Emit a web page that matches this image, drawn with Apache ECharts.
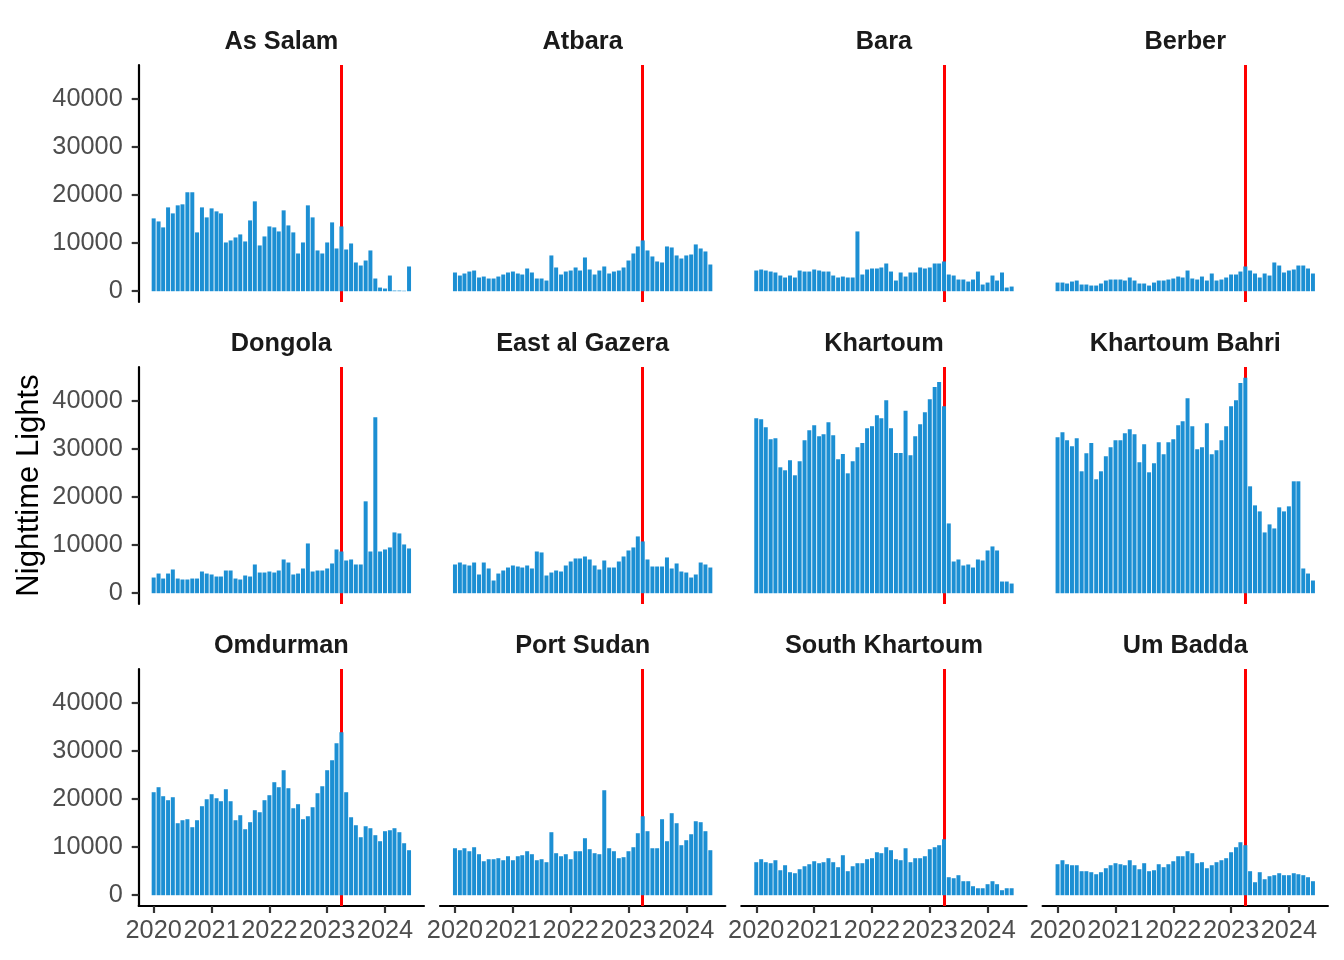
<!DOCTYPE html>
<html>
<head>
    <meta charset="UTF-8"/>
    <title>Nighttime Lights</title>
    <script src="https://cdn.jsdelivr.net/npm/echarts@6/dist/echarts.min.js"></script>
    <style>
        html, body { margin: 0; padding: 0; background: #fff; }
        #main { width: 1344px; height: 960px; }
    </style>
</head>
<body>
<div id="main"></div>
<script>
    // months 2020-01 .. 2024-06, one bar each
    var months = [];
    for (var m = 0; m < 54; m++) {
        months.push(new Date(2020, m, 1).getTime());
    }
    var warStart = new Date(2023, 3, 1).getTime();
    var yearTicks = [2020, 2021, 2022, 2023, 2024];
    var yTicks = [0, 10000, 20000, 30000, 40000];

    var regions = ['As Salam', 'Atbara', 'Bara', 'Berber',
        'Dongola', 'East al Gazera', 'Khartoum', 'Khartoum Bahri',
        'Omdurman', 'Port Sudan', 'South Khartoum', 'Um Badda'];

    var asSalam = [15130, 14500, 13260, 17420, 16170, 17840, 18050, 20560, 20560, 12220, 17420, 15340, 17210, 16590, 16170, 10130, 10550, 11170, 11800, 10340, 14710, 18670, 9510, 11380, 13460, 13260, 12420, 16800, 13670, 12220, 7840, 10130, 17840, 15340, 8470, 7840, 10130, 14300, 8880, 13460, 8670, 9920, 5970, 5340, 6380, 8470, 2640, 760, 560, 3260, 140, 140, 100, 5140];
    var atbara = [3890, 3260, 3680, 4090, 4300, 2850, 3050, 2640, 2640, 3050, 3470, 3890, 4090, 3680, 3470, 4720, 3890, 2640, 2640, 2220, 7430, 4930, 3470, 4090, 4300, 4930, 4300, 7010, 4510, 3470, 4300, 5140, 3680, 4090, 4300, 4930, 6380, 7840, 9300, 10550, 8470, 7220, 6180, 5970, 9300, 9090, 7430, 6800, 7430, 7630, 9720, 8880, 8260, 5550];
    var bara = [4300, 4510, 4300, 4090, 3890, 3260, 2850, 3260, 2850, 4300, 4090, 4090, 4510, 4300, 4090, 4090, 3260, 2850, 3050, 2850, 2850, 12420, 3470, 4510, 4720, 4720, 4930, 5760, 4090, 2220, 3890, 3050, 3890, 3890, 4930, 4720, 4930, 5760, 5760, 6180, 3470, 3260, 2430, 2430, 2010, 2430, 4090, 1390, 1800, 3260, 2220, 3890, 760, 970];
    var berber = [1800, 1800, 1600, 2010, 2220, 1390, 1390, 1180, 1180, 1600, 2220, 2430, 2430, 2430, 2220, 2850, 2220, 1600, 1600, 1180, 1800, 2220, 2220, 2430, 2640, 3050, 2850, 4300, 2640, 2430, 3050, 2220, 3680, 2220, 2430, 2850, 3470, 3470, 4090, 5140, 4300, 3680, 2850, 3680, 3260, 5970, 5340, 3890, 4300, 4510, 5340, 5340, 4720, 3680];
    var dongola = [3260, 4090, 3050, 4090, 4930, 3050, 2850, 2850, 3050, 3050, 4510, 4090, 3890, 3470, 3470, 4720, 4720, 3050, 2850, 3680, 3470, 5970, 4300, 4300, 4510, 4300, 4720, 7010, 6380, 3890, 4090, 5140, 10340, 4510, 4720, 4720, 5140, 6180, 9090, 8670, 6800, 7010, 5970, 5970, 19090, 8670, 36570, 8670, 9090, 9510, 12630, 12420, 10130, 9300];
    var eastAlGazera = [5970, 6380, 5970, 5760, 6380, 3890, 6380, 5140, 2640, 4090, 4720, 5340, 5760, 5550, 5340, 5760, 5140, 8670, 8470, 3680, 4300, 4720, 4510, 5760, 6590, 7220, 7220, 7630, 7010, 5760, 4930, 6800, 5340, 5340, 6590, 7630, 8880, 9510, 11800, 10760, 7010, 5550, 5550, 5550, 7430, 5140, 6180, 4510, 4300, 3260, 3890, 6380, 5970, 5340];
    var khartoum = [36360, 36160, 34490, 31990, 32200, 26160, 25540, 27620, 24500, 27410, 31780, 33870, 34910, 32620, 33040, 35530, 32830, 27830, 28940, 24910, 27410, 30330, 31230, 34280, 34700, 36990, 36360, 40110, 34280, 29150, 29150, 37890, 28660, 32620, 35120, 37610, 40320, 42820, 43860, 38860, 14500, 6590, 7010, 5760, 5970, 5340, 7010, 6800, 8880, 9720, 8880, 2430, 2430, 2010];
    var khartoumBahri = [32410, 33450, 31780, 30540, 32200, 25330, 29080, 31230, 23670, 25330, 28450, 30330, 31780, 31780, 33240, 34070, 33040, 27200, 30950, 25120, 27000, 31370, 28870, 31370, 31990, 34910, 35740, 40530, 34700, 29910, 30330, 35330, 28870, 29700, 31780, 34700, 38860, 40110, 43650, 44760, 22210, 18250, 17000, 12630, 14300, 13460, 17840, 17000, 18050, 23250, 23250, 5140, 4090, 2640];
    var omdurman = [21400, 22440, 20570, 19740, 20360, 14960, 15580, 15790, 14130, 15580, 18490, 19940, 20980, 20150, 19530, 22020, 19530, 15580, 16620, 13710, 15170, 17660, 17240, 19740, 20780, 23480, 22440, 25970, 22230, 18070, 18910, 15790, 16410, 18280, 21190, 22640, 25970, 28050, 31580, 33860, 21400, 16200, 14540, 12050, 14330, 13920, 12470, 11220, 13300, 13500, 13920, 13090, 10800, 9350];
    var portSudan = [9760, 9350, 9760, 9140, 9970, 8520, 7060, 7480, 7480, 7690, 7270, 8100, 7270, 8100, 8310, 9140, 8520, 7270, 7480, 6860, 13090, 8730, 8100, 8520, 7480, 9140, 9140, 11840, 9560, 8730, 8520, 21810, 9760, 9140, 7690, 7900, 9140, 9970, 12880, 16410, 13300, 9760, 9760, 15790, 11220, 17040, 14960, 10390, 11430, 12670, 15370, 15170, 13300, 9350];
    var southKhartoum = [6860, 7480, 6860, 6650, 7270, 5190, 6230, 4780, 4570, 5400, 6020, 6440, 7060, 6650, 6860, 7690, 6860, 5820, 8310, 4990, 6020, 6650, 6650, 7480, 7690, 8930, 8730, 9970, 9350, 7480, 7270, 9760, 6860, 7690, 7690, 8100, 9560, 9970, 10390, 11630, 3740, 3530, 4160, 2910, 2910, 1870, 1450, 1450, 2290, 2910, 2290, 1040, 1450, 1450];
    var umBadda = [6440, 7270, 6440, 6230, 6230, 4990, 4990, 4780, 4360, 4780, 5610, 6230, 6650, 6440, 6230, 7270, 6230, 5400, 6650, 4990, 5190, 6440, 5820, 6440, 7060, 8100, 8100, 9140, 8730, 6650, 6860, 5610, 6230, 6860, 7270, 7690, 8930, 9970, 11010, 10390, 4990, 2700, 4780, 3320, 3950, 4160, 4570, 4160, 4160, 4570, 4360, 4160, 3740, 2910];

    var values = [asSalam, atbara, bara, berber, dongola, eastAlGazera,
        khartoum, khartoumBahri, omdurman, portSudan, southKhartoum, umBadda];

    // panel geometry (ggplot facet_wrap, 4 columns x 3 rows)
    var colLeft = [138.7, 440, 741.3, 1042.6];
    var rowTop = [65, 367, 669];
    var panelW = 285.3, panelH = 237;
    var day = 24 * 3600 * 1000;
    var xMin = months[0] - 94.5 * day;
    var xMax = months[months.length - 1] + 94.5 * day;
    var font = 'Liberation Sans, Arial, Helvetica, sans-serif';
    var textSize = 25.3;

    var yearStamps = yearTicks.map(function (y) { return new Date(y, 0, 1).getTime(); });

    var grids = [], xAxes = [], yAxes = [], series = [], titles = [];
    regions.forEach(function (name, i) {
        var col = i % 4, row = Math.floor(i / 4);
        var bottomRow = row === 2, leftCol = col === 0;
        grids.push({left: colLeft[col], top: rowTop[row], width: panelW, height: panelH});
        titles.push({
            text: name,
            left: colLeft[col] + panelW / 2,
            top: rowTop[row] - 35,
            textAlign: 'center',
            padding: 0,
            textStyle: {fontSize: textSize, fontWeight: 'bold', color: '#1A1A1A', fontFamily: font}
        });
        // dates as plain numbers on a value axis so custom year ticks work
        xAxes.push({
            type: 'value',
            gridIndex: i,
            min: xMin,
            max: xMax,
            splitLine: {show: false},
            axisLine: {show: bottomRow, onZero: false, lineStyle: {color: '#000', width: 2.2}},
            axisTick: {show: bottomRow, customValues: yearStamps, length: 7,
                lineStyle: {color: '#333', width: 2.2}},
            axisLabel: {
                show: bottomRow,
                customValues: yearStamps,
                margin: 13,
                color: '#4D4D4D',
                fontSize: textSize,
                fontFamily: font,
                formatter: function (v) { return String(new Date(v).getFullYear()); }
            }
        });
        yAxes.push({
            type: 'value',
            gridIndex: i,
            min: -2240,
            max: 47000,
            splitLine: {show: false},
            axisLine: {show: leftCol, onZero: false, lineStyle: {color: '#000', width: 2.2}},
            axisTick: {show: leftCol, customValues: yTicks, length: 7,
                lineStyle: {color: '#333', width: 2.2}},
            axisLabel: {
                show: leftCol,
                customValues: yTicks,
                margin: 16,
                color: '#4D4D4D',
                fontSize: textSize,
                fontFamily: font,
                formatter: function (v) { return String(v); }
            }
        });
        series.push({
            type: 'bar',
            name: name,
            xAxisIndex: i,
            yAxisIndex: i,
            barWidth: '90%',
            z: 3,
            silent: true,
            itemStyle: {color: '#1C8FD3'},
            data: months.map(function (d, j) { return [d, values[i][j]]; }),
            markLine: {
                z: 1,
                silent: true,
                symbol: 'none',
                label: {show: false},
                lineStyle: {color: '#FF0000', width: 3, type: 'solid'},
                data: [{xAxis: warStart}]
            }
        });
    });

    var myChart = echarts.init(document.getElementById('main'));
    myChart.setOption({
        animation: false,
        backgroundColor: '#fff',
        title: titles,
        grid: grids,
        xAxis: xAxes,
        yAxis: yAxes,
        series: series,
        graphic: [{
            type: 'text',
            x: 29,
            y: 485.5,
            rotation: Math.PI / 2,
            style: {
                text: 'Nighttime Lights',
                fontSize: 31,
                fontFamily: font,
                fill: '#000',
                align: 'center',
                verticalAlign: 'middle'
            }
        }]
    });
</script>
</body>
</html>
